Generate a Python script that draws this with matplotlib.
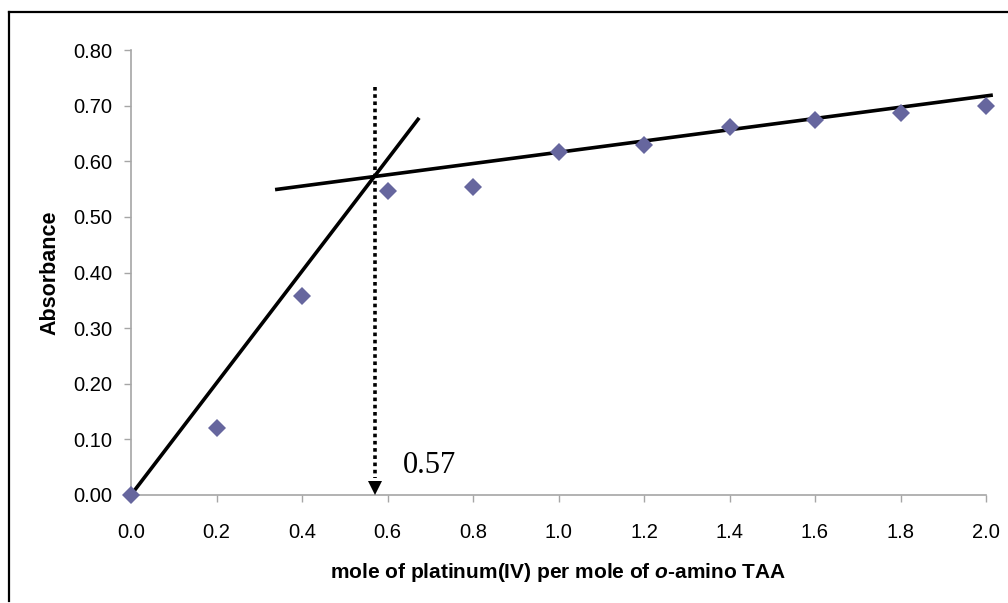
import matplotlib
matplotlib.use('Agg')
import matplotlib.pyplot as plt
from matplotlib.lines import Line2D
from matplotlib.transforms import ScaledTranslation

plt.rcParams['font.family'] = ['Liberation Sans', 'DejaVu Sans']
plt.rcParams['mathtext.fontset'] = 'custom'
plt.rcParams['mathtext.it'] = 'Liberation Sans:italic:bold'
plt.rcParams['mathtext.rm'] = 'Liberation Sans:bold'

# 数据
mole_ratio = [0.0, 0.2, 0.4, 0.6, 0.8, 1.0, 1.2, 1.4, 1.6, 1.8, 2.0]
absorbance = [0.000, 0.120, 0.357, 0.546, 0.553, 0.617, 0.630, 0.661, 0.675, 0.687, 0.700]

# 两条拟合线（端点）
rise_x = [0.0, 0.674]
rise_y = [0.000, 0.678]
plateau_x = [0.337, 2.016]
plateau_y = [0.549, 0.719]

# 交点
cross_x = 0.57
cross_label = '0.57'
dotted_top = 0.734

x_ticks = [0.0, 0.2, 0.4, 0.6, 0.8, 1.0, 1.2, 1.4, 1.6, 1.8, 2.0]
y_ticks = [0.0, 0.1, 0.2, 0.3, 0.4, 0.5, 0.6, 0.7, 0.8]

fig = plt.figure(figsize=(10.08, 6.03), dpi=100)
ax = fig.add_axes([131 / 1008, 1 - 495 / 603, (986 - 131) / 1008, (495 - 50) / 603])

ax.plot(rise_x, rise_y, color='black', lw=2.6, solid_capstyle='butt', clip_on=False, zorder=3)
ax.plot(plateau_x, plateau_y, color='black', lw=2.6, solid_capstyle='butt', clip_on=False, zorder=3)

ax.plot(mole_ratio, absorbance, linestyle='none', marker='D', ms=9.6,
        color='#66669e', markeredgewidth=0, clip_on=False, zorder=4)

# 虚线 + 箭头
ax.plot([cross_x, cross_x], [dotted_top, 0.03], color='black', lw=2.6,
        linestyle=(0, (1, 1)), dash_capstyle='butt', clip_on=False, zorder=3)
head = ax.transData + ScaledTranslation(0, 7.5 / 100, fig.dpi_scale_trans)
ax.plot([cross_x], [0.0], marker='v', ms=10.5, color='black', markeredgewidth=0,
        transform=head, clip_on=False, zorder=5)
ax.text(cross_x + 0.066, 0.0396, cross_label, family='Liberation Serif',
        fontsize=22, va='baseline', ha='left')

ax.set_xlim(0, 2.0)
ax.set_ylim(0, 0.8)
ax.set_xticks(x_ticks)
ax.set_xticklabels([f'{v:.1f}' for v in x_ticks])
ax.set_yticks(y_ticks)
ax.set_yticklabels([f'{v:.2f}' for v in y_ticks])

for s in ['top', 'right']:
    ax.spines[s].set_visible(False)
for s in ['left', 'bottom']:
    ax.spines[s].set_color('#a6a6a6')
    ax.spines[s].set_linewidth(1.2)

ax.tick_params(axis='both', direction='out', length=5, width=1.0, color='#a6a6a6',
               labelsize=14.5)
ax.tick_params(axis='y', pad=8.5)
ax.tick_params(axis='x', pad=15)

ax.set_ylabel('Absorbance', fontsize=15.5, fontweight='bold', labelpad=9)
ax.set_xlabel(r'mole of platinum(IV) per mole of $\it{o}$-amino TAA',
              fontsize=15, fontweight='bold', labelpad=14)

# 外框
fig.add_artist(Line2D([9 / 1008, 9 / 1008], [1 - 12 / 603, 1 - 601 / 603],
                      color='black', lw=1.6, transform=fig.transFigure))
fig.add_artist(Line2D([9 / 1008, 1.0], [1 - 12 / 603, 1 - 12 / 603],
                      color='black', lw=1.6, transform=fig.transFigure))

fig.savefig('out.png', dpi=100)
